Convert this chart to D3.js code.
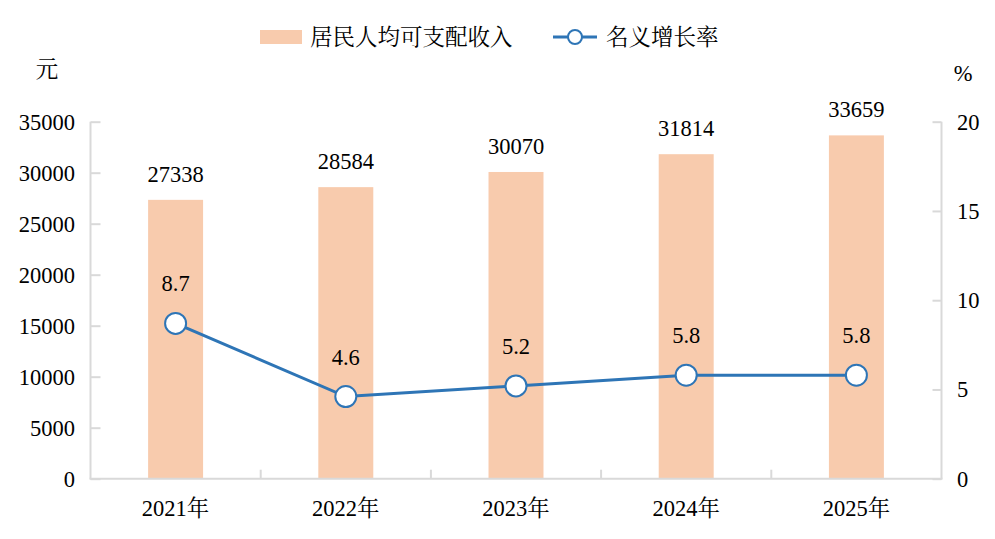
<!DOCTYPE html>
<html><head><meta charset="utf-8">
<script src="https://cdn.jsdelivr.net/npm/d3@7"></script>
<style>
body{margin:0;background:#fff;}
svg{display:block;}
svg text{font-family:"Liberation Serif","DejaVu Serif","Noto Serif CJK SC","Noto Sans CJK SC",serif;fill:#000;}
</style>
</head><body>
<svg id="c" width="995" height="539"></svg>
<script>
const years = ["2021年","2022年","2023年","2024年","2025年"];
const income = [27338, 28584, 30070, 31814, 33659];
const growth = [8.7, 4.6, 5.2, 5.8, 5.8];
const leftTicks = [0,5000,10000,15000,20000,25000,30000,35000];
const rightTicks = [0,5,10,15,20];
const seriesNames = ["居民人均可支配收入","名义增长率"];

const svg = d3.select("#c");
const FS = 22.5;
const L = 90.5, R = 941.5, T = 121.7, B = 478.7;
const barColor = "#f8cbad", lineColor = "#2e75b6", axisColor = "#d9d9d9";

const x = d3.scaleBand().domain(years).range([L, R]).paddingInner(0).paddingOuter(0);
const yL = d3.scaleLinear().domain([0,35000]).range([B, T]);
const yR = d3.scaleLinear().domain([0,20]).range([B, T]);
const bw = x.bandwidth()*0.323;

// bars
svg.append("g").selectAll("rect").data(income).join("rect")
  .attr("x",(d,i)=>x(years[i])+x.bandwidth()/2-bw/2)
  .attr("y",d=>yL(d)).attr("width",bw).attr("height",d=>B-yL(d))
  .attr("fill",barColor);

// left axis
const gl = svg.append("g").attr("transform",`translate(${L},0)`)
  .call(d3.axisRight(yL).tickValues(leftTicks).tickSize(10).tickFormat(""));
gl.select(".domain").remove();
gl.selectAll("line").attr("stroke",axisColor).attr("stroke-width",2);
svg.append("line").attr("x1",L).attr("x2",L).attr("y1",T).attr("y2",B).attr("stroke",axisColor).attr("stroke-width",2);
svg.append("g").selectAll("text").data(leftTicks).join("text")
  .attr("x",75).attr("y",d=>yL(d)).attr("dy","0.35em").attr("text-anchor","end")
  .attr("font-size",FS).text(d=>d);

// right axis
const gr = svg.append("g").attr("transform",`translate(${R},0)`)
  .call(d3.axisLeft(yR).tickValues(rightTicks).tickSize(9).tickFormat(""));
gr.select(".domain").remove();
gr.selectAll("line").attr("stroke",axisColor).attr("stroke-width",2);
svg.append("line").attr("x1",R).attr("x2",R).attr("y1",T).attr("y2",B).attr("stroke",axisColor).attr("stroke-width",2);
svg.append("g").selectAll("text").data(rightTicks).join("text")
  .attr("x",957).attr("y",d=>yR(d)).attr("dy","0.35em").attr("text-anchor","start")
  .attr("font-size",FS).text(d=>d);

// bottom axis
const bounds = years.map(y=>x(y)).concat([R]);
svg.append("g").selectAll("line").data(bounds.slice(1,-1)).join("line")
  .attr("x1",d=>d).attr("x2",d=>d).attr("y1",B).attr("y2",B-9)
  .attr("stroke",axisColor).attr("stroke-width",2);
svg.append("line").attr("x1",L-1).attr("x2",R+1).attr("y1",B).attr("y2",B).attr("stroke",axisColor).attr("stroke-width",2);
svg.append("g").selectAll("text").data(years).join("text")
  .attr("x",d=>x(d)+x.bandwidth()/2).attr("y",516).attr("text-anchor","middle")
  .attr("font-size",FS).text(d=>d);

// unit labels
svg.append("text").attr("x",47).attr("y",77).attr("text-anchor","middle")
  .attr("font-size",FS).text("元");
svg.append("text").attr("x",963).attr("y",81).attr("text-anchor","middle")
  .attr("font-size",FS).text("%");

// bar labels
svg.append("g").selectAll("text").data(income).join("text")
  .attr("x",(d,i)=>x(years[i])+x.bandwidth()/2).attr("y",d=>yL(d)-18)
  .attr("text-anchor","middle").attr("font-size",FS).text(d=>d);

// line
const cx = i=>x(years[i])+x.bandwidth()/2;
svg.append("path").datum(growth)
  .attr("d",d3.line().x((d,i)=>cx(i)).y(d=>yR(d)))
  .attr("fill","none").attr("stroke",lineColor).attr("stroke-width",3);
svg.append("g").selectAll("circle").data(growth).join("circle")
  .attr("cx",(d,i)=>cx(i)).attr("cy",d=>yR(d)).attr("r",10.5)
  .attr("fill","#fff").attr("stroke",lineColor).attr("stroke-width",2);
svg.append("g").selectAll("text").data(growth).join("text")
  .attr("x",(d,i)=>cx(i)).attr("y",d=>yR(d)-32)
  .attr("text-anchor","middle").attr("font-size",FS).text(d=>d.toFixed(1));

// legend
svg.append("rect").attr("x",260).attr("y",30).attr("width",42).attr("height",14).attr("fill",barColor);
svg.append("text").attr("x",310).attr("y",45).attr("font-size",FS).text(seriesNames[0]);
svg.append("line").attr("x1",553).attr("x2",597).attr("y1",37).attr("y2",37).attr("stroke",lineColor).attr("stroke-width",3);
svg.append("circle").attr("cx",575).attr("cy",37).attr("r",7).attr("fill","#fff").attr("stroke",lineColor).attr("stroke-width",2);
svg.append("text").attr("x",606).attr("y",45).attr("font-size",FS).text(seriesNames[1]);
</script>
</body></html>
